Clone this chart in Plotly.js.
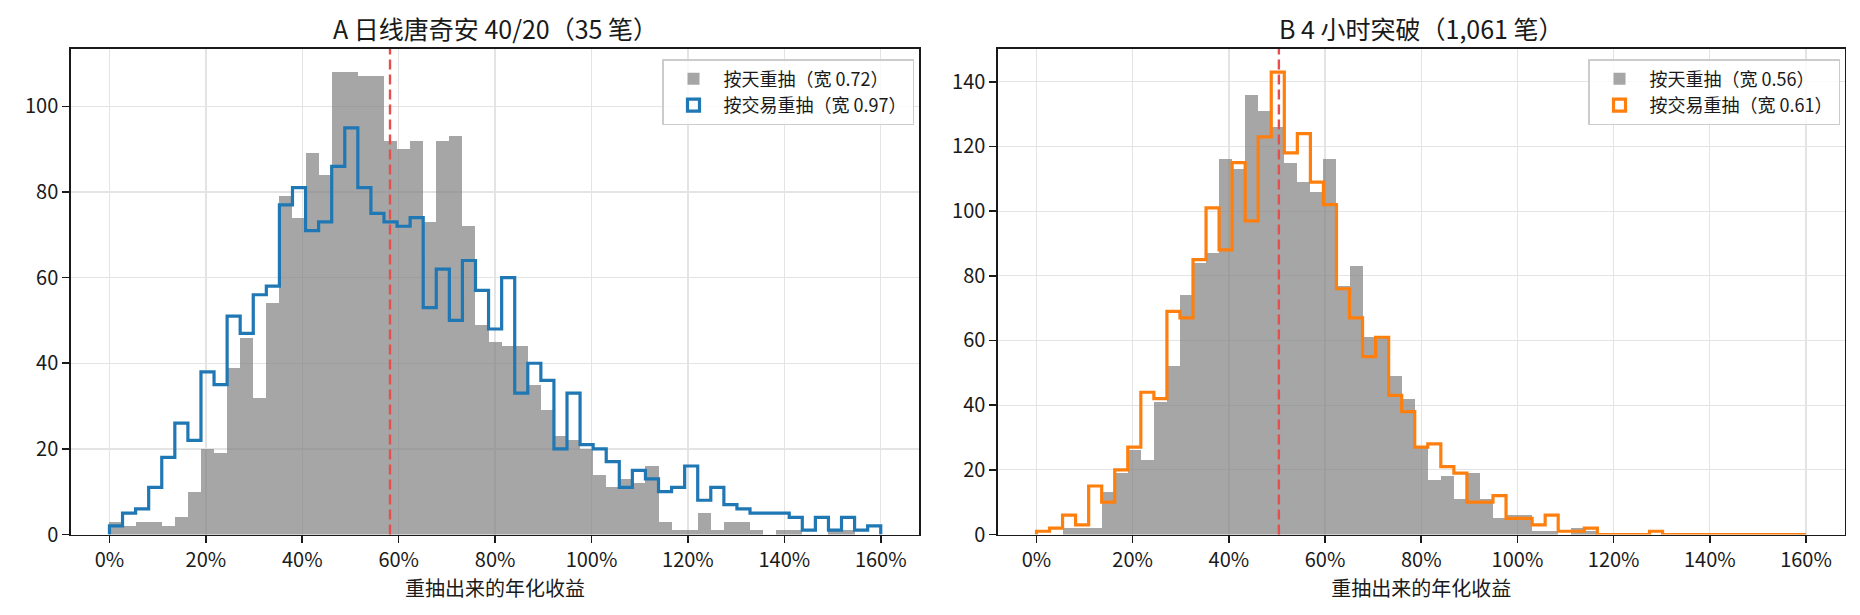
<!DOCTYPE html>
<html>
<head>
<meta charset="utf-8">
<script src="https://cdn.plot.ly/plotly-3.0.1.min.js"></script>
<style>
html,body{margin:0;padding:0;background:#ffffff;}
#chart{width:1860px;height:615px;}
</style>
</head>
<body>
<div id="chart"></div>
<script>
// ---- data ----
const binStart = 0;      // first bin edge (fraction)
const binEnd = 1.6;      // last bin edge (fraction)
const binCount = 59;     // number of bins

const xTickVals = [0, 0.2, 0.4, 0.6, 0.8, 1.0, 1.2, 1.4, 1.6];
const xTickLabels = ['0%', '20%', '40%', '60%', '80%', '100%', '120%', '140%', '160%'];
const yTickValsA = [0, 20, 40, 60, 80, 100];
const yTickValsB = [0, 20, 40, 60, 80, 100, 120, 140];

const titleA = 'A 日线唐奇安 40/20（35 笔）';
const titleB = 'B 4 小时突破（1,061 笔）';
const xAxisLabel = '重抽出来的年化收益';
const nameA1 = '按天重抽（宽 0.72）';
const nameA2 = '按交易重抽（宽 0.97）';
const nameB1 = '按天重抽（宽 0.56）';
const nameB2 = '按交易重抽（宽 0.61）';

const medianA = 0.582;
const medianB = 0.504;

const aDaily = [3,2,3,3,2,4,10,20,19,39,
                46,32,54,79,74,89,84,108,108,107,
                107,92,90,92,73,92,93,72,49,45,
                44,44,35,29,23,22,20,14,11,13,
                12,16,3,1,1,5,1,3,3,1,
                0,1,1,0,0,1,1,0,0];
const aTrade = [2,5,6,11,18,26,22,38,35,51,
                47,56,58,77,81,71,73,86,95,81,
                75,73,72,74,53,62,50,64,57,48,
                60,33,40,36,20,33,21,20,17,11,
                15,13,10,11,16,8,11,7,6,5,
                5,5,4,1,4,1,4,1,2];
const bDaily = [0,0,2,2,2,13,19,26,23,41,
                52,74,84,87,116,113,136,131,126,115,
                109,106,116,77,83,61,61,49,42,27,
                17,18,11,19,11,5,6,6,1,1,
                0,2,1,0,0,0,0,0,0,0,
                0,0,0,0,0,0,0,0,0];
const bTrade = [1,2,6,3,15,10,20,27,44,42,
                69,67,85,101,88,115,97,123,143,118,
                124,109,102,76,67,55,61,43,38,27,
                28,21,19,10,10,12,5,5,3,6,
                1,1,2,0,0,0,0,1,0,0,
                0,0,0,0,0,0,0,0,0];

// ---- bins ----
const binWidth = (binEnd - binStart) / binCount;
const edges = [];
for (let i = 0; i <= binCount; i++) edges.push(binStart + i * binWidth);
const centers = edges.slice(0, -1).map(e => e + binWidth / 2);

function stepXY(counts) {
  const xs = [edges[0]], ys = [0];
  counts.forEach((c, i) => { xs.push(edges[i], edges[i + 1]); ys.push(c, c); });
  xs.push(edges[counts.length]); ys.push(0);
  return {xs, ys};
}

const GRAY = 'rgba(128,128,128,0.7)';
const BLUE = '#1f77b4';
const ORANGE = '#ff7f0e';
const RED = '#e5504f';
const INK = '#1a1a1a';
const LW = 3.2;

const sA = stepXY(aTrade);
const sB = stepXY(bTrade);

const traces = [
  {type:'bar', x:centers, y:aDaily, width:binWidth, name:nameA1, xaxis:'x', yaxis:'y',
   marker:{color:GRAY, line:{width:0}}, legend:'legend', hoverinfo:'skip'},
  {type:'bar', x:[-1], y:[1], width:binWidth, name:nameA2, xaxis:'x', yaxis:'y',
   marker:{color:'rgba(255,255,255,0)', line:{color:BLUE, width:LW}}, legend:'legend', hoverinfo:'skip'},
  {type:'scatter', mode:'lines', x:sA.xs, y:sA.ys, xaxis:'x', yaxis:'y', showlegend:false,
   line:{color:BLUE, width:LW}, hoverinfo:'skip'},

  {type:'bar', x:centers, y:bDaily, width:binWidth, name:nameB1, xaxis:'x2', yaxis:'y2',
   marker:{color:GRAY, line:{width:0}}, legend:'legend2', hoverinfo:'skip'},
  {type:'bar', x:[-1], y:[1], width:binWidth, name:nameB2, xaxis:'x2', yaxis:'y2',
   marker:{color:'rgba(255,255,255,0)', line:{color:ORANGE, width:LW}}, legend:'legend2', hoverinfo:'skip'},
  {type:'scatter', mode:'lines', x:sB.xs, y:sB.ys, xaxis:'x2', yaxis:'y2', showlegend:false,
   line:{color:ORANGE, width:LW}, hoverinfo:'skip'}
];

const W = 1860, H = 615;
const domA = [70.9 / W, 919.3 / W];
const domB = [998 / W, 1844.5 / W];
const domY = [1 - 534.5 / H, 1 - 49 / H];

function xAxis(dom, anchor) {
  return {
    domain: dom, anchor: anchor, range: [-0.08, 1.68],
    tickmode: 'array', tickvals: xTickVals, ticktext: xTickLabels,
    showgrid: true, gridcolor: '#e4e4e4', gridwidth: 1.3,
    showline: true, mirror: true, linecolor: INK, linewidth: 1.6,
    ticks: 'outside', ticklen: 7, tickwidth: 1.6, tickcolor: INK,
    zeroline: false, tickfont: {size: 20, color: INK},
    title: {text: xAxisLabel, font: {size: 20, color: INK}, standoff: 6},
    automargin: false
  };
}
function yAxis(range, vals, anchor) {
  return {
    domain: domY, anchor: anchor, range: range,
    tickmode: 'array', tickvals: vals,
    showgrid: true, gridcolor: '#e4e4e4', gridwidth: 1.3,
    showline: true, mirror: true, linecolor: INK, linewidth: 1.6,
    ticks: 'outside', ticklen: 7, tickwidth: 1.6, tickcolor: INK,
    zeroline: false, tickfont: {size: 20, color: INK}, automargin: false
  };
}

const legendStyle = {
  bgcolor: 'rgba(255,255,255,0.8)', bordercolor: '#cccccc', borderwidth: 1.5,
  font: {size: 18, color: INK}, yanchor: 'top', xanchor: 'right',
  tracegroupgap: 0, traceorder: 'normal', itemwidth: 50
};

const layout = {
  width: W, height: H,
  margin: {l: 0, r: 0, t: 0, b: 0},
  paper_bgcolor: '#ffffff', plot_bgcolor: '#ffffff',
  font: {family: '"Noto Sans CJK SC", "Noto Sans", sans-serif', size: 20, color: INK},
  barmode: 'overlay', bargap: 0,
  xaxis: xAxis(domA, 'y'),
  yaxis: yAxis([0, 113.4], yTickValsA, 'x'),
  xaxis2: xAxis(domB, 'y2'),
  yaxis2: yAxis([0, 150.15], yTickValsB, 'x2'),
  legend: Object.assign({x: 914 / W, y: 1 - 59 / H}, legendStyle),
  legend2: Object.assign({x: 1840 / W, y: 1 - 59 / H}, legendStyle),
  shapes: [
    {type: 'line', xref: 'x', yref: 'y domain', x0: medianA, x1: medianA, y0: 0, y1: 1,
     line: {color: RED, width: 2.4, dash: '10px,5px'}, layer: 'above'},
    {type: 'line', xref: 'x2', yref: 'y2 domain', x0: medianB, x1: medianB, y0: 0, y1: 1,
     line: {color: RED, width: 2.4, dash: '10px,5px'}, layer: 'above'}
  ],
  annotations: [
    {text: titleA, xref: 'paper', yref: 'paper', x: (domA[0] + domA[1]) / 2, y: 1 - 28 / H,
     xanchor: 'center', yanchor: 'middle', showarrow: false, font: {size: 25, color: INK}},
    {text: titleB, xref: 'paper', yref: 'paper', x: (domB[0] + domB[1]) / 2, y: 1 - 28 / H,
     xanchor: 'center', yanchor: 'middle', showarrow: false, font: {size: 25, color: INK}}
  ]
};

Plotly.newPlot('chart', traces, layout, {displayModeBar: false, staticPlot: true});
</script>
</body>
</html>
